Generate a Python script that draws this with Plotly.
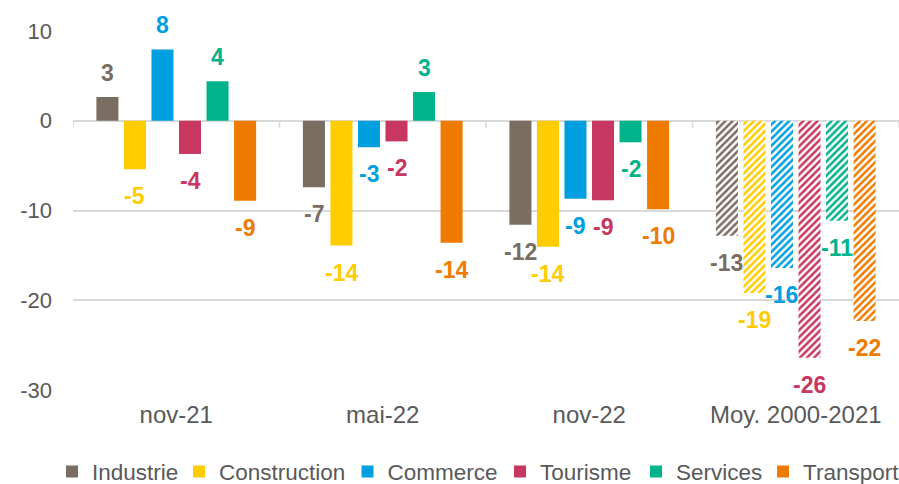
import plotly.graph_objects as go

categories = ["nov-21", "mai-22", "nov-22", "Moy. 2000-2021"]
series_names = ["Industrie", "Construction", "Commerce", "Tourisme", "Services", "Transport"]

industrie = [2.65, -7.4, -11.6, -12.8]
construction = [-5.4, -13.9, -14.05, -19.2]
commerce = [7.95, -2.95, -8.7, -16.4]
tourisme = [-3.7, -2.3, -8.85, -26.4]
services = [4.4, 3.2, -2.4, -11.15]
transport = [-8.9, -13.6, -9.85, -22.3]

y_tick_values = [-30, -20, -10, 0, 10]
y_tick_labels = ["-30", "-20", "-10", "0", "10"]

values = [industrie, construction, commerce, tourisme, services, transport]
colors = ["#7a6e63", "#ffcc00", "#00a0e0", "#c8375f", "#00b38a", "#ee7b00"]
patterns = ["", "", "", "/"]
legend_widths = [82, 123.5, 107.5, 91, 82, 105]

FONT = "Arial, Liberation Sans, sans-serif"
fig = go.Figure()

for name, vals, col, lw in zip(series_names, values, colors, legend_widths):
    fig.add_trace(go.Bar(
        name=name, x=categories, y=vals, legendwidth=lw,
        marker=dict(color=col, line=dict(width=0),
                    pattern=dict(shape=patterns, fgcolor=col, bgcolor="white",
                                 size=5, solidity=0.5, fillmode="replace")),
    ))

nser = len(series_names)
bargap = 0.2
slot = (1 - bargap) / nser
annotations = []
for j, (vals, col) in enumerate(zip(values, colors)):
    for i, v in enumerate(vals):
        annotations.append(dict(
            x=i + (j - (nser - 1) / 2) * slot, y=v, xref="x", yref="y",
            text=f"{v:.0f}", showarrow=False, yanchor="middle",
            yshift=24 if v >= 0 else -27,
            font=dict(family=FONT, size=23, color=col, weight="bold"),
        ))

shapes = []
for i in range(len(categories) + 1):
    shapes.append(dict(type="line", xref="x", yref="y", x0=i - 0.5, x1=i - 0.5,
                       ysizemode="pixel", yanchor=0, y0=0, y1=-7,
                       line=dict(color="#d9d9d9", width=1.5)))

fig.update_layout(
    width=899, height=484,
    margin=dict(l=73, r=0, t=31, b=94, autoexpand=False),
    plot_bgcolor="white", paper_bgcolor="white",
    barmode="group", bargap=bargap, bargroupgap=0.2,
    font=dict(family=FONT, color="#595959"),
    annotations=annotations, shapes=shapes,
    legend=dict(orientation="h", xref="paper", yref="paper",
                x=-0.0254, xanchor="left", y=-0.2284, yanchor="middle",
                font=dict(size=22.5, color="#595959", family=FONT),
                itemwidth=30, bgcolor="rgba(0,0,0,0)", borderwidth=0),
    showlegend=True,
)
fig.update_xaxes(showgrid=False, showline=False, ticks="", zeroline=False,
                 tickfont=dict(size=24, color="#595959"), ticklabelstandoff=8,
                 range=[-0.5, len(categories) - 0.5])
fig.update_yaxes(range=[-30, 10], tickvals=y_tick_values, ticktext=y_tick_labels,
                 showgrid=True, gridcolor="#d9d9d9",
                 gridwidth=1.5, zeroline=True, zerolinecolor="#d9d9d9", zerolinewidth=1.5,
                 showline=False, ticks="", tickfont=dict(size=22, color="#595959"),
                 ticklabelstandoff=20)

fig.write_html("out.html", config={"displayModeBar": False},
               post_script="document.body.style.margin='0';document.body.style.overflow='hidden';")
